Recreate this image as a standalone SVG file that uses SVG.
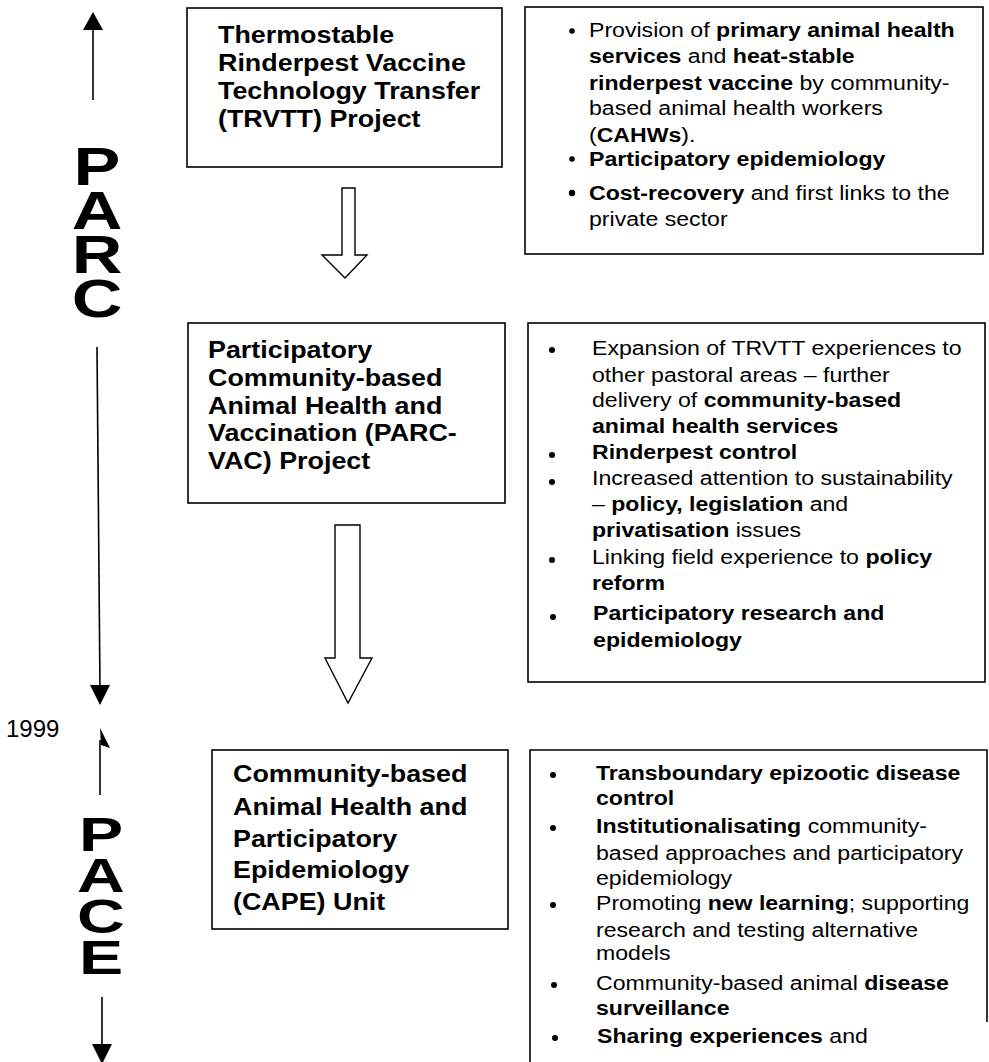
<svg xmlns="http://www.w3.org/2000/svg" width="989" height="1062" viewBox="0 0 989 1062">
<defs>
<style>
.box{fill:#fff;stroke:#000;stroke-width:1.6}
.h{font-family:"Liberation Sans",Arial,sans-serif;font-weight:bold;font-size:24px;fill:#000}
.t{font-family:"Liberation Sans",Arial,sans-serif;font-size:21px;fill:#000}
.b{font-weight:bold}
.big{font-family:"Liberation Sans",Arial,sans-serif;font-weight:bold;fill:#000;writing-mode:vertical-rl;text-orientation:upright}
.yr{font-family:"Liberation Sans",Arial,sans-serif;font-size:24px;fill:#000}
.line{stroke:#000;stroke-width:1.6;fill:none}
.hollow{fill:#fff;stroke:#000;stroke-width:1.4;stroke-linejoin:miter}
.dot{fill:#000}
.head{fill:#000}
</style>
</defs>
<rect width="989" height="1062" fill="#fff"/>

<g id="timeline">
  <line class="line" x1="93" y1="28" x2="93" y2="100"/>
  <polygon class="head" points="93,12 103,30 83,30"/>
  <g transform="translate(97,0) scale(1.3,1)">
    <text class="big" font-size="54" letter-spacing="-16.5" x="0" y="136">PARC</text>
  </g>
  <line class="line" x1="97" y1="347" x2="100" y2="690"/>
  <polygon class="head" points="100,705 110,685 90,685"/>
  <text class="yr" x="6" y="737">1999</text>
  <polygon class="head" points="100,728 110,748 101,745"/>
  <line class="line" x1="100" y1="740" x2="100" y2="795"/>
  <g transform="translate(101,0) scale(1.35,1)">
    <text class="big" font-size="49" letter-spacing="-13.5" x="0" y="806">PACE</text>
  </g>
  <line class="line" x1="102" y1="997" x2="102" y2="1048"/>
  <polygon class="head" points="102,1064 112,1044 92,1044"/>
</g>

<g id="connectors">
  <path class="hollow" d="M342,188 H355 V255 H367 L345,278 L322,255 H342 Z"/>
  <path class="hollow" d="M335,525 H360 V658 H372 L348,703 L325,658 H335 Z"/>
</g>

<g id="trvtt">
  <rect class="box" x="187" y="8" width="315" height="159"/>
  <g transform="translate(218,0) scale(1.12,1)">
    <text class="h" x="0" y="43">Thermostable</text>
    <text class="h" x="0" y="71">Rinderpest Vaccine</text>
    <text class="h" x="0" y="99">Technology Transfer</text>
    <text class="h" x="0" y="127">(TRVTT) Project</text>
  </g>
</g>

<g id="trvtt-notes">
  <rect class="box" x="525" y="7" width="458" height="247"/>
  <circle class="dot" cx="572" cy="31" r="2.8"/>
  <circle class="dot" cx="572" cy="159" r="2.8"/>
  <circle class="dot" cx="572" cy="193" r="3.2"/>
  <g transform="translate(589,0) scale(1.1,1)">
    <text class="t" x="0" y="37">Provision of <tspan class="b">primary animal health</tspan></text>
    <text class="t" x="0" y="63"><tspan class="b">services</tspan> and <tspan class="b">heat-stable</tspan></text>
    <text class="t" x="0" y="90"><tspan class="b">rinderpest vaccine</tspan> by community-</text>
    <text class="t" x="0" y="115">based animal health workers</text>
    <text class="t" x="0" y="142">(<tspan class="b">CAHWs</tspan>).</text>
    <text class="t" x="0" y="166"><tspan class="b">Participatory epidemiology</tspan></text>
    <text class="t" x="0" y="200"><tspan class="b">Cost-recovery</tspan> and first links to the</text>
    <text class="t" x="0" y="226">private sector</text>
  </g>
</g>

<g id="parcvac">
  <rect class="box" x="188" y="323" width="317" height="180"/>
  <g transform="translate(208,0) scale(1.12,1)">
    <text class="h" x="0" y="358">Participatory</text>
    <text class="h" x="0" y="386">Community-based</text>
    <text class="h" x="0" y="414">Animal Health and</text>
    <text class="h" x="0" y="441">Vaccination (PARC-</text>
    <text class="h" x="0" y="469">VAC) Project</text>
  </g>
</g>

<g id="parcvac-notes">
  <rect class="box" x="528" y="323" width="457" height="359"/>
  <circle class="dot" cx="552" cy="350" r="3"/>
  <circle class="dot" cx="552" cy="455" r="3"/>
  <circle class="dot" cx="552" cy="482" r="3"/>
  <circle class="dot" cx="552" cy="560" r="3"/>
  <circle class="dot" cx="553" cy="617" r="3"/>
  <g transform="translate(592,0) scale(1.1,1)">
    <text class="t" x="0" y="355">Expansion of TRVTT experiences to</text>
    <text class="t" x="0" y="382">other pastoral areas – further</text>
    <text class="t" x="0" y="407">delivery of <tspan class="b">community-based</tspan></text>
    <text class="t" x="0" y="433"><tspan class="b">animal health services</tspan></text>
    <text class="t" x="0" y="459"><tspan class="b">Rinderpest control</tspan></text>
    <text class="t" x="0" y="485">Increased attention to sustainability</text>
    <text class="t" x="0" y="511">– <tspan class="b">policy, legislation</tspan> and</text>
    <text class="t" x="0" y="537"><tspan class="b">privatisation</tspan> issues</text>
    <text class="t" x="0" y="564">Linking field experience to <tspan class="b">policy</tspan></text>
    <text class="t" x="0" y="590"><tspan class="b">reform</tspan></text>
    <text class="t" x="1" y="620"><tspan class="b">Participatory research and</tspan></text>
    <text class="t" x="1" y="647"><tspan class="b">epidemiology</tspan></text>
  </g>
</g>

<g id="cape">
  <rect class="box" x="212" y="750" width="296" height="179"/>
  <g transform="translate(233,0) scale(1.12,1)">
    <text class="h" x="0" y="782">Community-based</text>
    <text class="h" x="0" y="815">Animal Health and</text>
    <text class="h" x="0" y="847">Participatory</text>
    <text class="h" x="0" y="878">Epidemiology</text>
    <text class="h" x="0" y="910">(CAPE) Unit</text>
  </g>
</g>

<g id="cape-notes">
  <path class="box" d="M530,1070 V750 H987 V1022"/>
  <circle class="dot" cx="553" cy="775" r="3"/>
  <circle class="dot" cx="553" cy="828" r="3"/>
  <circle class="dot" cx="553" cy="905" r="3"/>
  <circle class="dot" cx="554" cy="985" r="3"/>
  <circle class="dot" cx="555" cy="1038" r="3"/>
  <g transform="translate(596,0) scale(1.1,1)">
    <text class="t" x="0" y="780"><tspan class="b">Transboundary epizootic disease</tspan></text>
    <text class="t" x="0" y="805"><tspan class="b">control</tspan></text>
    <text class="t" x="0" y="833"><tspan class="b">Institutionalisating</tspan> community-</text>
    <text class="t" x="0" y="860">based approaches and participatory</text>
    <text class="t" x="0" y="885">epidemiology</text>
    <text class="t" x="0" y="910">Promoting <tspan class="b">new learning</tspan>; supporting</text>
    <text class="t" x="0" y="937">research and testing alternative</text>
    <text class="t" x="0" y="960">models</text>
    <text class="t" x="0" y="990">Community-based animal <tspan class="b">disease</tspan></text>
    <text class="t" x="0" y="1015"><tspan class="b">surveillance</tspan></text>
    <text class="t" x="1" y="1043"><tspan class="b">Sharing experiences</tspan> and</text>
  </g>
</g>
</svg>
